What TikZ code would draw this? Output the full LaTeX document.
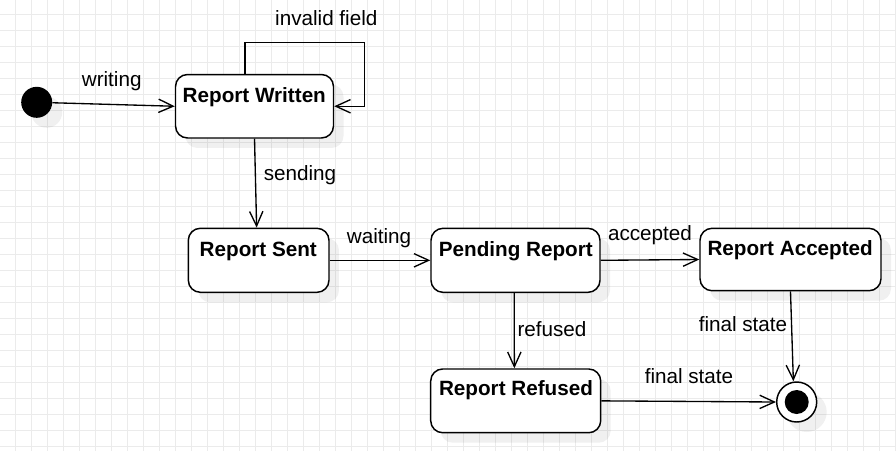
\documentclass[tikz,border=0pt]{standalone}
\usepackage{fontspec}
\setmainfont{Liberation Sans}
\usetikzlibrary{arrows.meta,shadows}
\begin{document}
\begin{tikzpicture}[x=0.75pt,y=-0.75pt,
  every node/.style={font=\fontsize{15.5}{18}\selectfont},
  gridline/.style={draw=black!8, line width=0.75pt},
  shad/.style={drop shadow={shadow xshift=7.5pt, shadow yshift=-7.5pt, fill=black, opacity=0.06}},
  state/.style={draw=black, line width=1.1pt, rounded corners=9pt, fill=white, shad, inner sep=0pt},
  title/.style={font=\fontsize{15.5}{18}\selectfont\bfseries, anchor=base, inner sep=0pt},
  lbl/.style={anchor=base, inner sep=0pt},
  trans/.style={draw=black, line width=1pt, -{Straight Barb[length=11pt,width=10pt,line width=1pt]}},
]
% background and grid
\fill[white] (0,0) rectangle (896,451);
\useasboundingbox (0,0) rectangle (896,451);
\foreach \i in {0,...,55} \draw[gridline] (15.3+16*\i,0) -- (15.3+16*\i,451);
\foreach \j in {0,...,27} \draw[gridline] (0,14+16*\j) -- (896,14+16*\j);

% states
\node[circle, fill=black, minimum size=23.25pt, inner sep=0pt, shad] (init) at (36.7,102.3) {};
\node[state, minimum width=118.5pt, minimum height=47.6pt] (rw) at (254.5,106.25) {};
\node[state, minimum width=105.5pt, minimum height=48pt] (sent) at (258.65,260.3) {};
\node[state, minimum width=126.75pt, minimum height=48pt] (pend) at (515.5,260.3) {};
\node[state, minimum width=135.75pt, minimum height=46.8pt] (acc) at (790.5,259.5) {};
\node[state, minimum width=127.5pt, minimum height=47.8pt] (ref) at (515.7,400.85) {};
\node[circle, draw=black, line width=1.1pt, fill=white, minimum size=30pt, inner sep=0pt, shad] (fin) at (796.7,402) {};
\node[circle, fill=black, minimum size=18pt, inner sep=0pt] (finin) at (fin.center) {};

% state titles
\node[title] (rwT) at (254.3,102) {Report Written};
\node[title] (sentT) at (258.3,256) {Report Sent};
\node[title] (pendT) at (515.8,256) {Pending Report};
\node[title] (accT) at (790.2,255.7) {Report Accepted};
\node[title] (refT) at (516,395.7) {Report Refused};

% transitions
\draw[trans] (init) -- (rw.west);
\draw[trans] ([xshift=-7.1pt]rw.north) -- ++(0,-31.5) -| ([xshift=22.9pt]rw.east) -- (rw.east);
\draw[trans] (rw.south) -- ([xshift=-1.5pt]sent.north);
\draw[trans] (sent.east) -- (pend.west);
\draw[trans] (pend.east) -- (acc.west);
\draw[trans] ([xshift=-1pt]pend.south) -- ([xshift=-1pt]ref.north);
\draw[trans] (ref.east) -- (fin.west);
\draw[trans] (acc.south) -- ([xshift=-2.5pt]fin.north);

% transition labels
\node[lbl] (lwriting) at (111.7,86) {writing};
\node[lbl] (linvalid) at (326.3,25) {invalid field};
\node[lbl] (lsending) at (300,180) {sending};
\node[lbl] (lwaiting) at (379,243.3) {waiting};
\node[lbl] (laccepted) at (650,240.7) {accepted};
\node[lbl] (lrefused) at (552,336) {refused};
\node[lbl] (lfinal1) at (743,331.7) {final state};
\node[lbl] (lfinal2) at (689,383.3) {final state};
\end{tikzpicture}
\end{document}
